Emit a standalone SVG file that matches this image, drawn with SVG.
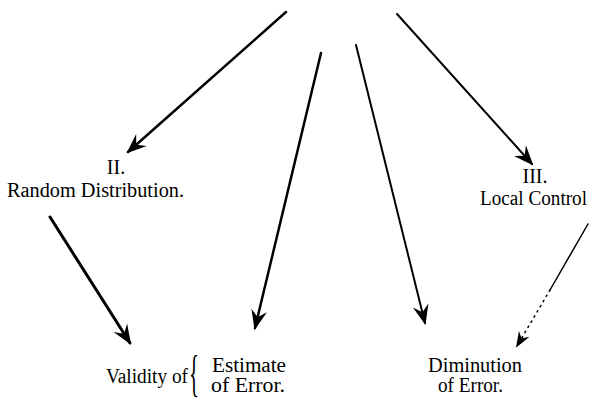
<svg xmlns="http://www.w3.org/2000/svg" width="597" height="400" viewBox="0 0 597 400">
<defs>
<marker id="barb" markerUnits="userSpaceOnUse" markerWidth="26" markerHeight="22" viewBox="-20 -11 26 22" refX="0" refY="0" orient="auto">
<path d="M2,0 L-18,-8 L-11,0 L-18,8 Z" fill="#000"/>
</marker>
<marker id="barbS" markerUnits="userSpaceOnUse" markerWidth="22" markerHeight="18" viewBox="-16 -9 22 18" refX="0" refY="0" orient="auto">
<path d="M2,0 L-14,-6 L-9,0 L-14,6 Z" fill="#000"/>
</marker>
</defs>
<style>
text { font-family: "Liberation Serif", "Times New Roman", serif; font-size: 20px; fill: #000; }
.c { stroke: #000; fill: none; stroke-linecap: round; }
</style>
<rect width="597" height="400" fill="#fff"/>
<g id="connectors">
<line class="c" x1="286" y1="12" x2="128" y2="152" stroke-width="2.5" marker-end="url(#barb)"/>
<line class="c" x1="397" y1="14" x2="532" y2="164" stroke-width="2" marker-end="url(#barb)"/>
<line class="c" x1="321" y1="53" x2="255" y2="328" stroke-width="2.5" marker-end="url(#barb)"/>
<line class="c" x1="356" y1="45" x2="425" y2="323" stroke-width="2" marker-end="url(#barb)"/>
<line class="c" x1="50" y1="217" x2="130" y2="343" stroke-width="3" marker-end="url(#barb)"/>
<line class="c" x1="588" y1="224" x2="550" y2="290" stroke-width="1.5"/>
<line class="c" x1="550" y1="290" x2="517" y2="346" stroke-width="1.5" stroke-dasharray="1.5 4.5" marker-end="url(#barbS)"/>
</g>
<g id="node-random">
<text x="116" y="174" text-anchor="middle">II.</text>
<text x="7" y="197" textLength="177" lengthAdjust="spacingAndGlyphs">Random Distribution.</text>
</g>
<g id="node-local">
<text x="535" y="183" text-anchor="middle">III.</text>
<text x="480" y="205" textLength="107" lengthAdjust="spacingAndGlyphs">Local Control</text>
</g>
<g id="node-validity">
<text x="106" y="383" textLength="82" lengthAdjust="spacingAndGlyphs">Validity of</text>
<text transform="translate(189,390) scale(0.42,1)" style="font-size:50px">{</text>
<text x="212" y="372" textLength="74" lengthAdjust="spacingAndGlyphs">Estimate</text>
<text x="211" y="392" textLength="74" lengthAdjust="spacingAndGlyphs">of Error.</text>
</g>
<g id="node-diminution">
<text x="428" y="372" textLength="94" lengthAdjust="spacingAndGlyphs">Diminution</text>
<text x="438" y="392" textLength="65" lengthAdjust="spacingAndGlyphs">of Error.</text>
</g>
</svg>
